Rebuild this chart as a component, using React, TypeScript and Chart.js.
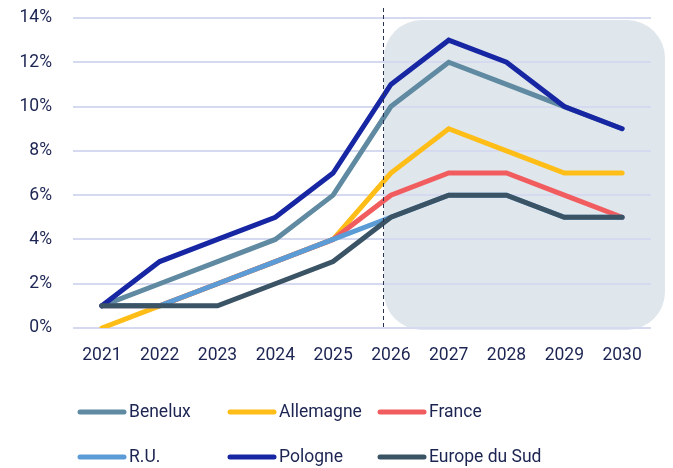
import React, { useEffect, useRef } from "react";
import { Chart, registerables } from "chart.js";

Chart.register(...registerables);

const years = ["2021", "2022", "2023", "2024", "2025", "2026", "2027", "2028", "2029", "2030"];
const benelux = [1, 2, 3, 4, 6, 10, 12, 11, 10, 9];
const allemagne = [0, 1, 2, 3, 4, 7, 9, 8, 7, 7];
const france = [1, 1, 2, 3, 4, 6, 7, 7, 6, 5];
const ru = [1, 1, 2, 3, 4, 5, 6, 6, 5, 5];
const pologne = [1, 3, 4, 5, 7, 11, 13, 12, 10, 9];
const europeSud = [1, 1, 1, 2, 3, 5, 6, 6, 5, 5];
const yTicks = [0, 2, 4, 6, 8, 10, 12, 14];
// forecast divider sits just before the 2026 category
const forecastDividerIndex = 4.86;

const TEXT = "#1c2452";
const FONT = "Roboto";
const FSIZE = 17.5;

const seriesDefs = [
  { label: "Benelux", data: benelux, color: "#5f8aa1", order: 5 },
  { label: "Allemagne", data: allemagne, color: "#ffbd18", order: 4 },
  { label: "France", data: france, color: "#f15d5e", order: 3 },
  { label: "R.U.", data: ru, color: "#5c9cd6", order: 2 },
  { label: "Pologne", data: pologne, color: "#1726a3", order: 1 },
  { label: "Europe du Sud", data: europeSud, color: "#3b5465", order: 0 },
];

function roundRect(ctx: CanvasRenderingContext2D, x: number, y: number, w: number, h: number, r: number) {
  ctx.beginPath();
  ctx.moveTo(x + r, y);
  ctx.lineTo(x + w - r, y);
  ctx.arcTo(x + w, y, x + w, y + r, r);
  ctx.lineTo(x + w, y + h - r);
  ctx.arcTo(x + w, y + h, x + w - r, y + h, r);
  ctx.lineTo(x + r, y + h);
  ctx.arcTo(x, y + h, x, y + h - r, r);
  ctx.lineTo(x, y + r);
  ctx.arcTo(x, y, x + r, y, r);
  ctx.closePath();
}

const forecastPlugin = {
  id: "forecastBox",
  beforeDraw(chart: any) {
    const { ctx, chartArea, scales } = chart;
    const x0 = scales.x.getPixelForValue(forecastDividerIndex) + 1;
    const top = scales.y.getPixelForValue(yTicks[yTicks.length - 1]) + 2;
    const bottom = scales.y.getPixelForValue(0) + 2;
    const right = chartArea.right + 14;
    ctx.save();
    ctx.fillStyle = "#dfe6ec";
    roundRect(ctx, x0, top, right - x0, bottom - top, 38);
    ctx.fill();
    ctx.restore();
  },
  afterDatasetsDraw(chart: any) {
    const { ctx, scales } = chart;
    const x0 = Math.round(scales.x.getPixelForValue(forecastDividerIndex)) + 0.5;
    const bottom = scales.y.getPixelForValue(0) + 2;
    ctx.save();
    ctx.strokeStyle = "#2a3350";
    ctx.lineWidth = 1;
    ctx.setLineDash([4, 3]);
    ctx.beginPath();
    ctx.moveTo(x0, 8);
    ctx.lineTo(x0, bottom);
    ctx.stroke();
    ctx.restore();
  },
  afterDraw(chart: any) {
    const { ctx } = chart;
    const colX = [78, 228, 378];
    const rowY = [412, 457];
    ctx.save();
    ctx.font = `${FSIZE}px ${FONT}`;
    ctx.textBaseline = "middle";
    ctx.textAlign = "left";
    seriesDefs.forEach((s, i) => {
      const cx = colX[i % 3];
      const cy = rowY[Math.floor(i / 3)];
      ctx.strokeStyle = s.color;
      ctx.lineWidth = 5;
      ctx.lineCap = "round";
      ctx.beginPath();
      ctx.moveTo(cx + 2, cy);
      ctx.lineTo(cx + 46, cy);
      ctx.stroke();
      ctx.fillStyle = TEXT;
      ctx.fillText(s.label, cx + 51, cy + 1);
    });
    ctx.restore();
  },
};

export default function App() {
  const ref = useRef<HTMLCanvasElement | null>(null);
  useEffect(() => {
    if (!ref.current) return;
    const chart = new Chart(ref.current, {
      type: "line",
      data: {
        labels: years,
        datasets: seriesDefs.map((s) => ({
          label: s.label,
          data: s.data,
          borderColor: s.color,
          backgroundColor: s.color,
          borderWidth: 5,
          pointRadius: 0,
          pointHoverRadius: 0,
          tension: 0,
          fill: false,
          order: s.order,
          borderCapStyle: "round" as const,
          borderJoinStyle: "miter" as const,
        })),
      },
      options: {
        animation: false,
        responsive: false,
        maintainAspectRatio: false,
        layout: { padding: { left: 0, right: 22, top: 18, bottom: 85 } },
        plugins: { legend: { display: false }, tooltip: { enabled: false } },
        scales: {
          x: {
            offset: true,
            grid: { display: false, drawTicks: false },
            border: { display: false },
            ticks: { color: TEXT, font: { family: FONT, size: FSIZE }, padding: 17, maxRotation: 0 },
            afterFit: (axis: any) => {
              axis.height = 55;
              axis.paddingLeft = 0;
              axis.paddingRight = 0;
            },
          },
          y: {
            min: 0,
            max: 14,
            afterBuildTicks: (axis: any) => {
              axis.ticks = yTicks.map((v) => ({ value: v }));
            },
            afterFit: (axis: any) => {
              axis.width = 73;
              axis.paddingTop = 0;
              axis.paddingBottom = 0;
            },
            grid: { color: "#d6daf1", lineWidth: 2, drawTicks: false },
            border: { display: false },
            ticks: {
              color: TEXT,
              font: { family: FONT, size: FSIZE },
              padding: 21,
              callback: (v: any) => `${v}%`,
            },
          },
        },
      },
      plugins: [forecastPlugin],
    });
    return () => chart.destroy();
  }, []);
  return (
    <div style={{ position: "fixed", left: 0, top: 0, width: 673, height: 468, background: "#fff" }}>
      <canvas ref={ref} width={673} height={468} style={{ width: 673, height: 468, display: "block" }} />
    </div>
  );
}
